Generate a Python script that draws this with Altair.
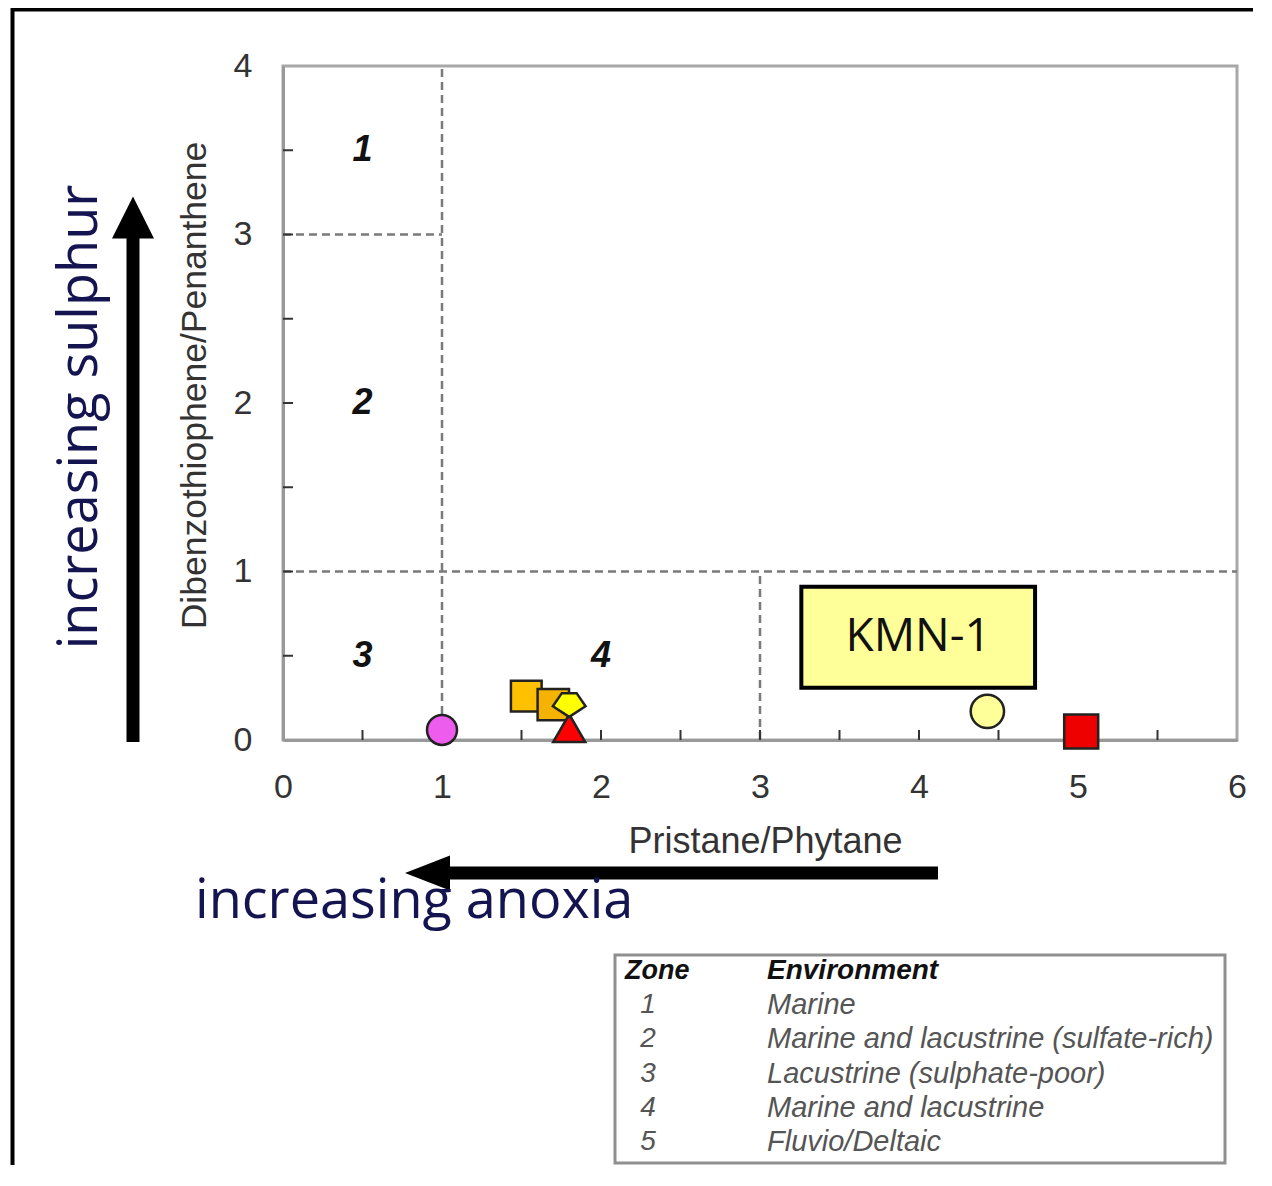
import altair as alt
import pandas as pd

# ---------------- values ----------------
sample_ids = ["S1", "S2", "S3", "S4", "S5", "KMN-1", "S7"]
pristane_phytane = [1.00, 1.53, 1.70, 1.80, 1.80, 4.43, 5.02]
dbt_phenanthrene = [0.06, 0.26, 0.21, 0.07, 0.21, 0.17, 0.05]

zone_ids = ["1", "2", "3", "4"]
zone_label_x = [0.5, 0.5, 0.5, 2.0]
zone_label_y = [3.5, 2.0, 0.5, 0.5]

boundary_x = [1, 0, 0, 3]
boundary_x2 = [1, 1, 6, 3]
boundary_y = [0, 3, 1, 0]
boundary_y2 = [4, 3, 1, 1]

x_ticks = [0, 1, 2, 3, 4, 5, 6]
y_ticks = [0, 1, 2, 3, 4]
x_minor = [0.5, 1.0, 1.5, 2.0, 2.5, 3.0, 3.5, 4.0, 4.5, 5.0, 5.5]
y_minor = [0.5, 1.0, 1.5, 2.0, 2.5, 3.0, 3.5]

label_box_x = [3.26]
label_box_x2 = [4.73]
label_box_y = [0.31]
label_box_y2 = [0.91]
label_text = ["KMN-1"]

legend_zones = ["1", "2", "3", "4", "5"]
legend_envs = [
    "Marine",
    "Marine and lacustrine (sulfate-rich)",
    "Lacustrine (sulphate-poor)",
    "Marine and lacustrine",
    "Fluvio/Deltaic",
]

# ---------------- styles ----------------
point_colors = ["#ee5cee", "#ffc000", "#f5b300", "#ff0000", "#ffff00", "#ffff99", "#ee0000"]
point_shapes = ["circle", "square", "square", "triangle-up",
                "M-1,0.1L-0.45,-0.7L0.45,-0.7L1,0.1L0,0.75Z", "circle", "square"]
point_sizes = [900, 1156, 900, 1225, 1024, 2116, 1296]

FONT = "Liberation Sans"
HAND = "Open Sans"
TXT = "#141450"

xs = alt.Scale(domain=[0, 6], nice=False, zero=False)
ys = alt.Scale(domain=[0, 4], nice=False, zero=False)

one = pd.DataFrame({"k": [0]})

# ---------------- layers ----------------
pts = pd.DataFrame({"sample": sample_ids, "prph": pristane_phytane, "dbt": dbt_phenanthrene})
points = alt.Chart(pts).mark_point(filled=True, opacity=1, stroke="#222", strokeWidth=2.5).encode(
    x=alt.X("prph:Q", scale=xs, axis=alt.Axis(
        values=x_ticks, format="d", ticks=False, tickSize=0, grid=False, labelFlush=False,
        domainColor="#999", domainWidth=3,
        labelFont=FONT, labelFontSize=34, labelColor="#333", labelPadding=30,
        title="Pristane/Phytane", titleFont=FONT, titleFontSize=36, titleFontWeight="normal",
        titleColor="#333", titleX=482, titleY=112, titleAlign="center", titleBaseline="alphabetic")),
    y=alt.Y("dbt:Q", scale=ys, axis=alt.Axis(
        values=y_ticks, format="d", ticks=False, tickSize=0, grid=False,
        domainColor="#999", domainWidth=3,
        labelFont=FONT, labelFontSize=34, labelColor="#333", labelPadding=31,
        title="Dibenzothiophene/Penanthene", titleFont=FONT, titleFontSize=35.5,
        titleFontWeight="normal", titleColor="#333", titleAngle=270,
        titleX=-78, titleY=319, titleAlign="center", titleBaseline="alphabetic")),
    color=alt.Color("sample:N", scale=alt.Scale(domain=sample_ids, range=point_colors), legend=None),
    shape=alt.Shape("sample:N", scale=alt.Scale(domain=sample_ids, range=point_shapes), legend=None),
    size=alt.Size("sample:N", scale=alt.Scale(domain=sample_ids, range=point_sizes), legend=None),
)

bnd = pd.DataFrame({"x": boundary_x, "x2": boundary_x2, "y": boundary_y, "y2": boundary_y2})
boundaries = alt.Chart(bnd).mark_rule(color="#7a7a7a", strokeWidth=2.5, strokeDash=[8, 5]).encode(
    x=alt.X("x:Q", scale=xs), x2="x2:Q", y=alt.Y("y:Q", scale=ys), y2="y2:Q")

xm = pd.DataFrame({"v": x_minor})
x_minor_ticks = alt.Chart(xm).mark_rule(color="#333", strokeWidth=2).encode(
    x=alt.X("v:Q", scale=xs), y=alt.value(674), y2=alt.value(664))
ym = pd.DataFrame({"v": y_minor})
y_minor_ticks = alt.Chart(ym).mark_rule(color="#333", strokeWidth=2).encode(
    y=alt.Y("v:Q", scale=ys), x=alt.value(0), x2=alt.value(10))

zl = pd.DataFrame({"z": zone_ids, "x": zone_label_x, "y": zone_label_y})
zone_labels = alt.Chart(zl).mark_text(font=FONT, fontSize=36, fontWeight="bold", fontStyle="italic",
                                      color="#111", baseline="middle", align="center").encode(
    x=alt.X("x:Q", scale=xs), y=alt.Y("y:Q", scale=ys), text="z:N")

lb = pd.DataFrame({"x": label_box_x, "x2": label_box_x2, "y": label_box_y, "y2": label_box_y2,
                   "t": label_text})
label_box = alt.Chart(lb).mark_rect(fill="#ffff99", stroke="#000", strokeWidth=4).encode(
    x=alt.X("x:Q", scale=xs), x2="x2:Q", y=alt.Y("y:Q", scale=ys), y2="y2:Q")
label_txt = alt.Chart(lb).transform_calculate(cx="(datum.x + datum.x2) / 2",
                                              cy="(datum.y + datum.y2) / 2").mark_text(
    font=HAND, fontSize=46, color="#111", align="center", baseline="middle").encode(
    x=alt.X("cx:Q", scale=xs), y=alt.Y("cy:Q", scale=ys), text="t:N")

# ---------------- decorations outside the plot (pixel positions, plot origin = 0,0) ----------------
frame_top = alt.Chart(one).mark_rule(color="#000", strokeWidth=4).encode(
    x=alt.value(-272), x2=alt.value(1000), y=alt.value(-56.5))
frame_left = alt.Chart(one).mark_rule(color="#000", strokeWidth=4).encode(
    x=alt.value(-270.5), y=alt.value(-58), y2=alt.value(1130))

v_shaft = alt.Chart(one).mark_rule(color="#000", strokeWidth=13).encode(
    x=alt.value(-150), y=alt.value(676), y2=alt.value(170))
v_head = alt.Chart(one).mark_point(shape="M-1,1L1,1L0,-1Z", size=1764, filled=True,
                                   color="#000", opacity=1).encode(
    x=alt.value(-150), y=alt.value(151.5))
h_shaft = alt.Chart(one).mark_rule(color="#000", strokeWidth=13).encode(
    x=alt.value(160), x2=alt.value(655), y=alt.value(807))
h_head = alt.Chart(one).mark_point(shape="M1,-0.78L1,0.78L-1,0Z", size=2025, filled=True,
                                   color="#000", opacity=1).encode(
    x=alt.value(144.5), y=alt.value(807))

sulphur = alt.Chart(one).mark_text(text="increasing sulphur", font=HAND, fontSize=54, angle=270,
                                   align="center", baseline="alphabetic", color=TXT).encode(
    x=alt.value(-186), y=alt.value(351))
anoxia = alt.Chart(one).mark_text(text="increasing anoxia", font=HAND, fontSize=54,
                                  align="left", baseline="alphabetic", color=TXT).encode(
    x=alt.value(-88), y=alt.value(852))

# legend table
table_box = alt.Chart(one).mark_rect(fill="white", stroke="#8f8f8f", strokeWidth=3).encode(
    x=alt.value(332), x2=alt.value(942), y=alt.value(889), y2=alt.value(1097))
hdr_zone = alt.Chart(one).mark_text(text="Zone", font=FONT, fontSize=27, fontWeight="bold",
                                    fontStyle="italic", align="left", baseline="middle",
                                    color="#111").encode(x=alt.value(342), y=alt.value(905))
hdr_env = alt.Chart(one).mark_text(text="Environment", font=FONT, fontSize=28, fontWeight="bold",
                                   fontStyle="italic", align="left", baseline="middle",
                                   color="#111").encode(x=alt.value(484), y=alt.value(905))
leg = pd.DataFrame({"zone": legend_zones, "env": legend_envs})
leg["row"] = range(1, len(leg) + 1)
leg_zone = alt.Chart(leg).transform_calculate(py="905 + 34.2 * datum.row").mark_text(
    font=FONT, fontSize=28, fontStyle="italic", align="center", baseline="middle",
    color="#555").encode(x=alt.value(365), y=alt.Y("py:Q", scale=None), text="zone:N")
leg_env = alt.Chart(leg).transform_calculate(py="905 + 34.2 * datum.row").mark_text(
    font=FONT, fontSize=29, fontStyle="italic", align="left", baseline="middle",
    color="#555").encode(x=alt.value(484), y=alt.Y("py:Q", scale=None), text="env:N")

chart = alt.layer(
    boundaries, x_minor_ticks, y_minor_ticks, zone_labels, label_box, label_txt, points,
    frame_top, frame_left, v_shaft, v_head, h_shaft, h_head, sulphur, anoxia,
    table_box, hdr_zone, hdr_env, leg_zone, leg_env,
).properties(
    width=954, height=674,
    autosize=alt.AutoSizeParams(type="none"),
    padding={"left": 275, "top": 58, "right": 16, "bottom": 425},
    background="white",
).configure_view(stroke="#a8a8a8", strokeWidth=3)

chart.save("out.html", embed_options={"renderer": "svg", "actions": False})
